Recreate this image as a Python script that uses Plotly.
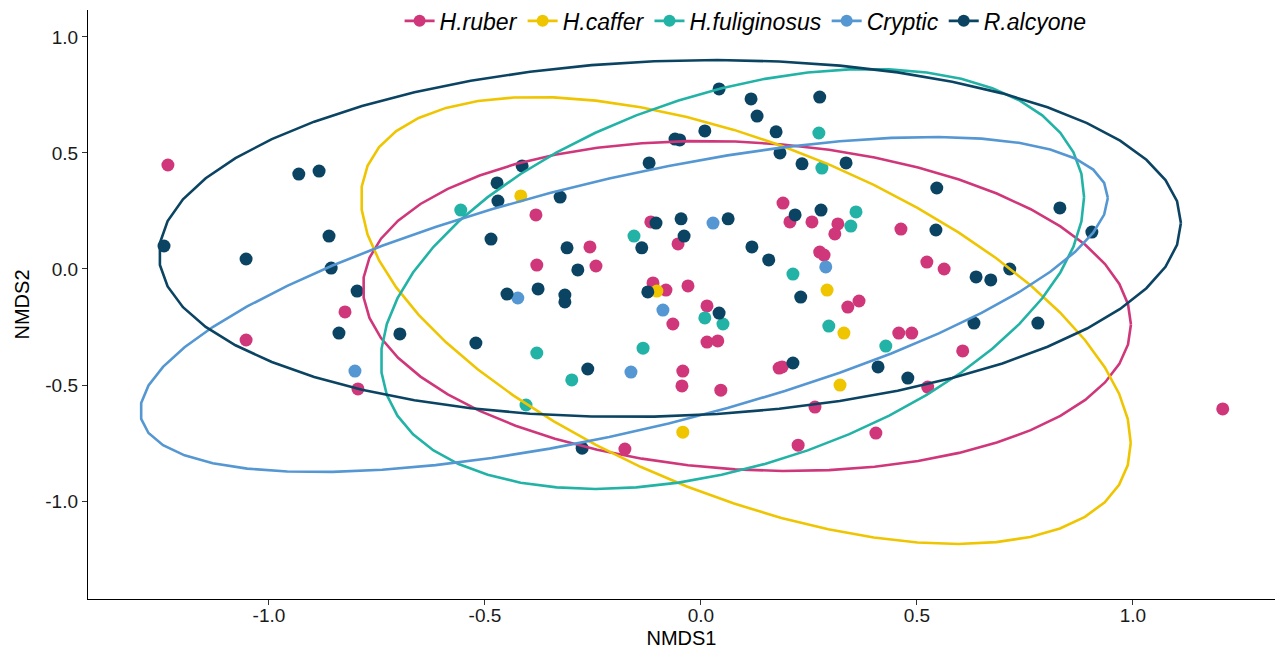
import numpy as np
import plotly.graph_objects as go

# ---- data -------------------------------------------------------------
groups = ["H.ruber", "H.caffer", "H.fuliginosus", "Cryptic", "R.alcyone"]
colors = ["#CF377A", "#EFC500", "#22B3A6", "#5597D2", "#0B4463"]

ruber_x = [-1.234, -1.053, -0.824, -0.794, -0.382, -0.257, -0.380, -0.243, -0.116, -0.053,
           -0.111, -0.081, -0.030, 0.014, -0.065, 0.014, 0.039, -0.042, -0.044, 0.046,
           -0.176, 0.190, 0.206, 0.257, 0.317, 0.310, 0.275, 0.285, 0.340, 0.366,
           0.181, 0.188, 0.264, 0.225, 0.405, 0.463, 0.523, 0.563, 0.458, 0.488,
           0.606, 0.525, 1.208]
ruber_y = [0.448, -0.306, -0.185, -0.517, 0.233, 0.095, 0.017, 0.013, 0.203, 0.108,
           -0.060, -0.091, -0.073, -0.159, -0.237, -0.315, -0.310, -0.440, -0.504, -0.522,
           -0.776, 0.284, 0.203, 0.203, 0.194, 0.151, 0.073, 0.060, -0.164, -0.138,
           -0.427, -0.422, -0.595, -0.759, -0.707, 0.172, 0.030, 0.000, -0.276, -0.276,
           -0.353, -0.509, -0.603]

caffer_x = [-0.417, -0.102, 0.292, 0.331, 0.322, -0.042]
caffer_y = [0.315, -0.095, -0.091, -0.276, -0.500, -0.703]

fulig_x = [-0.556, -0.155, -0.380, -0.134, -0.299, -0.405, 0.009, 0.051, 0.273, 0.280,
           0.359, 0.347, 0.213, 0.296, 0.428]
fulig_y = [0.254, 0.142, -0.362, -0.341, -0.478, -0.586, -0.211, -0.237, 0.586, 0.435,
           0.246, 0.185, -0.022, -0.246, -0.332]

cryptic_x = [-0.801, -0.424, -0.088, -0.162, 0.028, 0.289]
cryptic_y = [-0.440, -0.125, -0.177, -0.444, 0.198, 0.009]

alcyone_x = [-1.243, -1.053, -0.931, -0.884, -0.861, -0.856, -0.796, -0.838, -0.697, -0.521,
             -0.472, -0.470, -0.414, -0.326, -0.486, -0.310, -0.285, -0.449, -0.377, -0.315,
             -0.315, -0.262, -0.275, -0.120, -0.060, -0.049, -0.104, -0.046, -0.039, -0.137,
             -0.123, 0.042, 0.116, 0.275, 0.130, 0.174, 0.009, 0.183, 0.234, 0.336,
             0.546, 0.218, 0.278, 0.063, 0.118, 0.157, 0.544, 0.637, 0.671, 0.715,
             0.231, 0.042, 0.632, 0.213, 0.410, 0.479, 0.831, 0.905, 0.780]
alcyone_y = [0.099, 0.043, 0.409, 0.422, 0.142, 0.004, -0.095, -0.276, -0.280, -0.319,
             0.371, 0.293, 0.444, 0.310, 0.129, 0.091, -0.004, -0.108, -0.086, -0.112,
             -0.142, -0.431, -0.772, 0.457, 0.560, 0.556, 0.198, 0.216, 0.142, 0.091,
             -0.099, 0.776, 0.733, 0.741, 0.659, 0.591, 0.595, 0.500, 0.453, 0.457,
             0.349, 0.233, 0.254, 0.216, 0.095, 0.039, 0.168, -0.034, -0.047, 0.000,
             -0.121, -0.190, -0.233, -0.405, -0.422, -0.470, 0.263, 0.159, -0.233]

points_x = [ruber_x, caffer_x, fulig_x, cryptic_x, alcyone_x]
points_y = [ruber_y, caffer_y, fulig_y, cryptic_y, alcyone_y]

# 95% ellipse per group: centre, half-width, half-height, correlation
ell_cx = [0.1065, 0.104, 0.073, -0.178, -0.0718]
ell_cy = [-0.1595, -0.222, -0.043, -0.153, 0.1315]
ell_w = [0.889, 0.891, 0.814, 1.120, 1.183]
ell_h = [0.711, 0.963, 0.905, 0.722, 0.769]
ell_r = [-0.112, -0.548, 0.39, 0.636, 0.087]

x_ticks = [-1.0, -0.5, 0.0, 0.5, 1.0]
x_ticklabels = ["-1.0", "-0.5", "0.0", "0.5", "1.0"]
y_ticks = [-1.0, -0.5, 0.0, 0.5, 1.0]
y_ticklabels = ["-1.0", "-0.5", "0.0", "0.5", "1.0"]

# ---- figure -----------------------------------------------------------
fig = go.Figure()

for name, col, xs, ys in zip(groups, colors, points_x, points_y):
    fig.add_trace(go.Scatter(x=xs, y=ys, mode="markers", name=name, showlegend=False,
                             marker=dict(size=13, color=col, line=dict(width=0))))

t = np.linspace(0, 2 * np.pi, 52)
for name, col, cx, cy, w, h, r in zip(groups, colors, ell_cx, ell_cy, ell_w, ell_h, ell_r):
    ex = cx + w * np.cos(t)
    ey = cy + h * (r * np.cos(t) + np.sqrt(1 - r * r) * np.sin(t))
    fig.add_trace(go.Scatter(x=ex, y=ey, mode="lines", name=name, showlegend=False,
                             line=dict(color=col, width=2.6)))

# legend keys: point over line
for name, col in zip(groups, colors):
    fig.add_trace(go.Scatter(x=[None], y=[None], mode="lines+markers", name=name,
                             marker=dict(size=12, color=col),
                             line=dict(color=col, width=2.6)))

axis_common = dict(
    showgrid=False, zeroline=False, showline=True, linecolor="black", linewidth=1.3,
    ticks="outside", ticklen=5, tickwidth=1.2, tickcolor="#333333",
    tickfont=dict(family="Liberation Sans, Arial, sans-serif", size=19, color="#1a1a1a"),
    mirror=False,
)

fig.update_layout(
    width=1282, height=657,
    margin=dict(l=88, r=7, t=10, b=58, autoexpand=False),
    paper_bgcolor="white", plot_bgcolor="white",
    font=dict(family="Liberation Sans, Arial, sans-serif", color="black"),
    xaxis=dict(range=[-1.419, 1.329], tickvals=x_ticks, ticktext=x_ticklabels,
               ticklabelstandoff=-6,
               title=dict(text="NMDS1", font=dict(size=20), standoff=6), **axis_common),
    yaxis=dict(range=[-1.422, 1.116], tickvals=y_ticks, ticktext=y_ticklabels,
               title=dict(text="NMDS2", font=dict(size=20), standoff=10), **axis_common),
    legend=dict(orientation="h", x=0.554, xanchor="center", y=1.018, yanchor="top",
                font=dict(size=23, style="italic", color="black"),
                bgcolor="rgba(0,0,0,0)", itemwidth=30, tracegroupgap=0),
)

fig.write_html("out.html")
